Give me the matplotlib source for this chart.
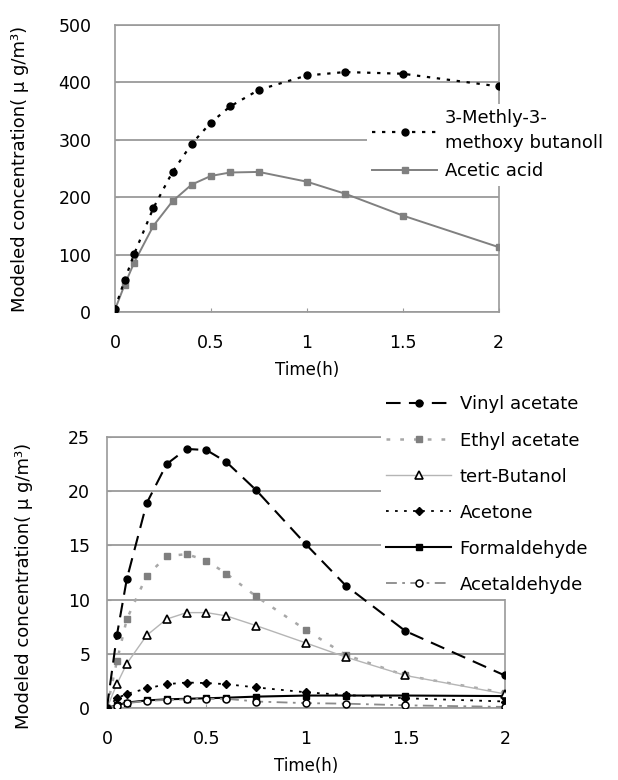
import matplotlib
matplotlib.use('Agg')
import matplotlib.pyplot as plt

plt.rcParams['font.family'] = ['DejaVu Sans']

# sampling times (h)
time_h = [0, 0.05, 0.1, 0.2, 0.3, 0.4, 0.5, 0.6, 0.75, 1.0, 1.2, 1.5, 2.0]

# upper panel
methyl_methoxy_butanol = [6, 55, 101, 181, 244, 293, 330, 358, 387, 412, 418, 415, 393]
acetic_acid = [4, 47, 86, 150, 193, 222, 237, 243, 244, 227, 206, 168, 113]

# lower panel
vinyl_acetate = [0, 6.7, 11.9, 18.9, 22.5, 23.9, 23.8, 22.7, 20.1, 15.1, 11.3, 7.1, 3.0]
ethyl_acetate = [0, 4.3, 8.2, 12.2, 14.0, 14.2, 13.6, 12.4, 10.3, 7.2, 4.9, 3.0, 1.4]
tert_butanol = [0, 2.2, 4.1, 6.7, 8.2, 8.8, 8.8, 8.5, 7.6, 6.0, 4.7, 3.0, 1.3]
acetone = [0, 0.9, 1.3, 1.8, 2.2, 2.35, 2.3, 2.2, 1.9, 1.45, 1.2, 0.9, 0.6]
formaldehyde = [0, 0.25, 0.5, 0.7, 0.8, 0.85, 0.9, 0.95, 1.05, 1.15, 1.15, 1.15, 1.1]
acetaldehyde = [0, 0.2, 0.45, 0.65, 0.75, 0.8, 0.85, 0.85, 0.6, 0.45, 0.4, 0.25, 0.1]

x_ticks = [0, 0.5, 1, 1.5, 2]
x_labels = ['0', '0.5', '1', '1.5', '2']
top_yticks = [0, 100, 200, 300, 400, 500]
bottom_yticks = [0, 5, 10, 15, 20, 25]

ylabel = 'Modeled concentration( μ g/m³)'
grid_col = '#9a9a9a'
tick_fs = 12.5
leg_fs = 13

fig = plt.figure(figsize=(6.18, 7.80), dpi=100)
ax1 = fig.add_axes([0.186, 0.60, 0.621, 0.368])
ax2 = fig.add_axes([0.173, 0.0923, 0.644, 0.3474])


def style_axes(ax, yticks, ypad, label_xy):
    ax.set_xlim(0, 2)
    ax.set_ylim(yticks[0], yticks[-1])
    ax.set_xticks(x_ticks)
    ax.set_xticklabels(x_labels)
    ax.set_yticks(yticks)
    ax.yaxis.grid(True, color=grid_col, lw=1.3)
    ax.set_axisbelow(True)
    for s in ax.spines.values():
        s.set_color(grid_col)
        s.set_linewidth(1.2)
    ax.tick_params(axis='both', direction='in', length=3, color=grid_col, labelsize=tick_fs)
    ax.tick_params(axis='y', pad=ypad)
    ax.tick_params(axis='x', pad=16)
    ax.set_xlabel('Time(h)', fontsize=12, labelpad=6)
    ax.set_ylabel(ylabel, fontsize=13)
    ax.yaxis.set_label_coords(*label_xy)


style_axes(ax1, top_yticks, 17, (-0.225, 0.5))
style_axes(ax2, bottom_yticks, 12, (-0.185, 0.45))

# upper panel curves
ax1.plot(time_h, methyl_methoxy_butanol, color='black', ls=(0, (1.5, 3)), lw=1.6,
         marker='o', ms=5, label='3-Methly-3-\nmethoxy butanoll', zorder=4)
ax1.plot(time_h, acetic_acid, color='#808080', ls='-', lw=1.4,
         marker='s', ms=5, label='Acetic acid', zorder=3)
leg1 = ax1.legend(loc='upper left', bbox_to_anchor=(358 / 618, 1 - 95 / 780),
                  bbox_transform=fig.transFigure, fontsize=leg_fs, frameon=True,
                  facecolor='white', edgecolor='none', framealpha=1, fancybox=False,
                  handlelength=3.6, handletextpad=0.4, labelspacing=0.55, borderpad=0.3)
leg1.get_texts()[0].set_linespacing(1.5)

# lower panel curves
ax2.plot(time_h, vinyl_acetate, color='black', ls=(0, (7, 4)), lw=1.5,
         marker='o', ms=5, label='Vinyl acetate', zorder=6)
ax2.plot(time_h, ethyl_acetate, color='#a8a8a8', ls=(0, (1.5, 4)), lw=1.8,
         marker='s', ms=5, mfc='#7f7f7f', mec='#7f7f7f', label='Ethyl acetate', zorder=5)
ax2.plot(time_h, tert_butanol, color='#b5b5b5', ls='-', lw=1.0,
         marker='^', ms=6, mfc='white', mec='black', mew=1.2, label='tert-Butanol', zorder=5)
ax2.plot(time_h, acetone, color='black', ls=(0, (1.5, 3.5)), lw=1.3,
         marker='D', ms=4, label='Acetone', zorder=4)
ax2.plot(time_h, formaldehyde, color='black', ls='-', lw=1.5,
         marker='s', ms=4.5, label='Formaldehyde', zorder=4)
ax2.plot(time_h, acetaldehyde, color='#8a8a8a', ls=(0, (6, 3, 1.5, 3)), lw=1.3,
         marker='o', ms=5, mfc='white', mec='black', mew=1.1, label='Acetaldehyde', zorder=4)
ax2.legend(loc='upper left', bbox_to_anchor=(372 / 618, 1 - 381 / 780),
           bbox_transform=fig.transFigure, fontsize=leg_fs, frameon=True,
           facecolor='white', edgecolor='none', framealpha=1, fancybox=False,
           handlelength=3.6, handletextpad=0.45, labelspacing=1.0, borderpad=0.3)

fig.savefig('out.png', dpi=100)
